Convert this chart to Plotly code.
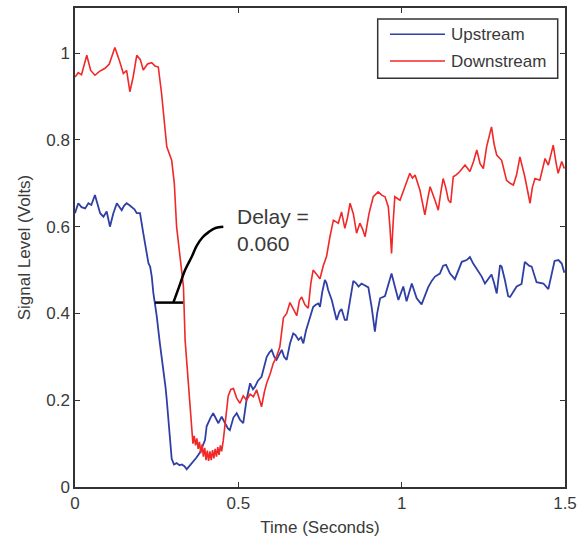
import plotly.graph_objects as go

# ---------------- data ----------------
up_t = [0.000,0.010,0.020,0.031,0.041,0.050,0.061,0.070,0.077,0.087,0.097,0.107,0.117,0.128,0.135,0.143,0.150,0.158,0.166,0.174,
        0.182,0.189,0.199,0.209,0.219,0.225,0.230,0.235,0.240,0.250,0.260,0.270,0.277,0.281,0.286,0.291,0.296,0.303,0.311,0.320,
        0.327,0.335,0.342,0.350,0.362,0.372,0.383,0.390,0.398,0.403,0.408,0.415,0.423,0.431,0.439,0.449,0.460,0.468,0.474,0.485,
        0.495,0.505,0.515,0.525,0.536,0.545,0.551,0.560,0.571,0.580,0.587,0.595,0.602,0.610,0.617,0.625,0.633,0.640,0.648,0.658,
        0.668,0.675,0.684,0.692,0.699,0.707,0.714,0.722,0.729,0.737,0.745,0.750,0.757,0.765,0.770,0.775,0.786,0.796,0.801,0.810,
        0.816,0.826,0.832,0.842,0.852,0.860,0.868,0.877,0.888,0.898,0.908,0.918,0.925,0.934,0.949,0.959,0.969,0.980,0.990,1.005,
        1.015,1.031,1.046,1.061,1.071,1.081,1.092,1.102,1.117,1.127,1.136,1.148,1.163,1.174,1.184,1.199,1.209,1.219,1.235,1.245,
        1.255,1.265,1.275,1.283,1.291,1.301,1.306,1.316,1.326,1.332,1.342,1.352,1.367,1.377,1.390,1.398,1.413,1.423,1.434,1.449,
        1.459,1.468,1.480,1.490,1.498]
up_v = [0.631,0.654,0.645,0.642,0.654,0.650,0.673,0.650,0.631,0.623,0.635,0.600,0.630,0.654,0.645,0.638,0.648,0.654,0.650,0.646,
        0.640,0.631,0.631,0.585,0.538,0.515,0.508,0.485,0.446,0.395,0.330,0.277,0.231,0.200,0.147,0.110,0.065,0.052,0.055,0.050,
        0.052,0.048,0.041,0.048,0.058,0.068,0.080,0.095,0.108,0.140,0.150,0.160,0.170,0.160,0.147,0.162,0.145,0.135,0.131,0.160,
        0.170,0.155,0.147,0.200,0.239,0.225,0.231,0.245,0.254,0.280,0.300,0.310,0.316,0.300,0.293,0.305,0.316,0.300,0.293,0.330,
        0.354,0.350,0.339,0.345,0.331,0.360,0.377,0.400,0.415,0.420,0.423,0.415,0.450,0.477,0.470,0.454,0.431,0.400,0.385,0.405,
        0.410,0.385,0.385,0.430,0.475,0.470,0.462,0.469,0.465,0.460,0.415,0.358,0.400,0.435,0.440,0.465,0.492,0.460,0.431,0.462,
        0.428,0.469,0.435,0.421,0.440,0.460,0.475,0.485,0.492,0.510,0.512,0.492,0.479,0.500,0.519,0.523,0.530,0.515,0.498,0.485,
        0.469,0.480,0.490,0.470,0.446,0.511,0.508,0.477,0.440,0.438,0.450,0.462,0.468,0.519,0.510,0.508,0.472,0.470,0.469,0.456,
        0.495,0.521,0.523,0.515,0.494]

down_t = [0.000,0.010,0.020,0.036,0.048,0.061,0.075,0.092,0.105,0.122,0.135,0.148,0.158,0.168,0.178,0.189,0.200,0.209,0.222,0.235,
          0.245,0.255,0.265,0.273,0.281,0.296,0.304,0.311,0.321,0.332,0.337,0.347,0.357,0.361,0.365,0.369,0.373,0.377,0.381,0.385,
          0.389,0.393,0.397,0.401,0.405,0.409,0.413,0.417,0.421,0.425,0.429,0.433,0.437,0.441,0.445,0.449,0.454,0.462,0.469,0.477,
          0.485,0.495,0.505,0.515,0.525,0.536,0.546,0.556,0.565,0.571,0.580,0.587,0.597,0.607,
          0.617,0.627,0.638,0.648,0.658,0.668,0.679,0.687,0.694,0.704,0.714,0.722,0.729,0.740,0.750,0.760,0.770,0.780,0.791,0.806,
          0.816,0.826,0.834,0.842,0.852,0.862,0.872,0.880,0.888,0.900,0.913,0.928,0.940,0.949,0.959,0.964,0.969,0.974,0.979,0.995,
          1.010,1.025,1.033,1.041,1.056,1.066,1.071,1.080,1.087,1.102,1.112,1.120,1.127,1.135,1.143,1.150,1.158,1.168,1.178,1.194,
          1.209,1.220,1.230,1.240,1.250,1.260,1.275,1.283,1.291,1.306,1.321,1.332,1.342,1.352,1.362,1.377,1.393,1.400,1.408,1.423,
          1.439,1.449,1.464,1.472,1.479,1.490,1.498]
down_v = [0.945,0.955,0.950,0.995,0.960,0.949,0.958,0.965,0.975,1.013,0.985,0.953,0.960,0.911,0.945,0.995,0.985,0.961,0.975,0.978,
          0.970,0.968,0.907,0.850,0.784,0.753,0.700,0.600,0.538,0.462,0.339,0.231,0.124,0.100,0.118,0.096,0.112,0.088,0.104,0.078,
          0.098,0.070,0.090,0.062,0.084,0.060,0.082,0.062,0.085,0.066,0.088,0.070,0.092,0.074,0.096,0.082,0.108,0.160,0.210,0.225,
          0.227,0.205,0.193,0.210,0.200,0.214,0.208,0.224,0.200,0.185,0.220,0.240,0.260,0.285,
          0.300,0.323,0.390,0.400,0.425,0.410,0.395,0.430,0.438,0.420,0.412,0.470,0.500,0.490,0.480,0.510,0.531,0.575,0.615,0.608,
          0.634,0.596,0.620,0.654,0.630,0.585,0.608,0.595,0.577,0.630,0.669,0.680,0.672,0.669,0.646,0.600,0.538,0.610,0.669,0.661,
          0.692,0.723,0.712,0.719,0.684,0.650,0.627,0.665,0.692,0.661,0.638,0.680,0.711,0.690,0.661,0.655,0.715,0.720,0.727,0.742,
          0.727,0.750,0.777,0.745,0.734,0.784,0.830,0.790,0.765,0.753,0.707,0.700,0.696,0.720,0.761,0.715,0.654,0.690,0.711,0.707,
          0.757,0.742,0.788,0.750,0.723,0.750,0.734]

delay_h_t = [0.245, 0.331]
delay_h_v = [0.425, 0.425]
delay_c_t = [0.301, 0.318, 0.337, 0.357, 0.372, 0.390, 0.410, 0.430, 0.454]
delay_c_v = [0.425, 0.460, 0.500, 0.530, 0.555, 0.575, 0.588, 0.597, 0.600]
delay_label = "Delay =<br>0.060"

x_ticks = [0, 0.5, 1, 1.5]
x_tick_text = ["0", "0.5", "1", "1.5"]
y_ticks = [0, 0.2, 0.4, 0.6, 0.8, 1]
y_tick_text = ["0", "0.2", "0.4", "0.6", "0.8", "1"]

BLUE = "#2f3fa6"
RED = "#f02828"
TXT = "#3a3a3a"
FONT = "Liberation Sans, Arial, sans-serif"

fig = go.Figure()
fig.add_trace(go.Scatter(x=up_t, y=up_v, mode="lines", name="Upstream",
                         line=dict(color=BLUE, width=1.8), showlegend=False))
fig.add_trace(go.Scatter(x=down_t, y=down_v, mode="lines", name="Downstream",
                         line=dict(color=RED, width=1.6), showlegend=False))
fig.add_trace(go.Scatter(x=delay_h_t, y=delay_h_v, mode="lines",
                         line=dict(color="black", width=2.5), showlegend=False))
fig.add_trace(go.Scatter(x=delay_c_t, y=delay_c_v, mode="lines",
                         line=dict(color="black", width=2.5, shape="spline"), showlegend=False))

fig.add_annotation(x=0.49, y=0.592, xref="x", yref="y", text=delay_label, showarrow=False,
                   xanchor="left", yanchor="middle", align="left",
                   font=dict(family=FONT, size=21, color=TXT))

# manual legend box (paper coords)
L, R, T, B = 377.7, 557.7, 19, 78.3
x0p, x1p, y0p, y1p = 75, 565, 8, 487
def px(xp): return (xp - x0p) / (x1p - x0p)
def py(yp): return (y1p - yp) / (y1p - y0p)
fig.add_shape(type="rect", xref="paper", yref="paper", x0=px(L), x1=px(R), y0=py(B), y1=py(T),
              line=dict(color="#333333", width=1.5), fillcolor="white", layer="above")
for name, col, yy in [("Upstream", BLUE, 34.3), ("Downstream", RED, 61)]:
    fig.add_shape(type="line", xref="paper", yref="paper", x0=px(390), x1=px(445), y0=py(yy), y1=py(yy),
                  line=dict(color=col, width=1.6), layer="above")
    fig.add_annotation(x=px(449), y=py(yy), xref="paper", yref="paper", text=name, showarrow=False,
                       xanchor="left", yanchor="middle", font=dict(family=FONT, size=17, color=TXT))

axis_common = dict(showline=True, linecolor="#333333", linewidth=1.5, mirror="ticks",
                   ticks="inside", ticklen=5, tickwidth=1.2, tickcolor="#333333",
                   showgrid=False, zeroline=False, automargin=False,
                   tickfont=dict(family=FONT, size=17, color=TXT))
fig.update_xaxes(range=[0, 1.5], tickvals=x_ticks, ticktext=x_tick_text,
                 title=dict(text="Time (Seconds)", font=dict(family=FONT, size=17, color=TXT), standoff=9),
                 **axis_common)
fig.update_yaxes(range=[0, 1.104], tickvals=y_ticks, ticktext=y_tick_text,
                 title=dict(text="Signal Level (Volts)", font=dict(family=FONT, size=17, color=TXT), standoff=11),
                 **axis_common)

fig.update_layout(width=583, height=537, margin=dict(l=75, r=18, t=8, b=50, autoexpand=False),
                  paper_bgcolor="white", plot_bgcolor="white", showlegend=False)
fig.write_html("out.html")
